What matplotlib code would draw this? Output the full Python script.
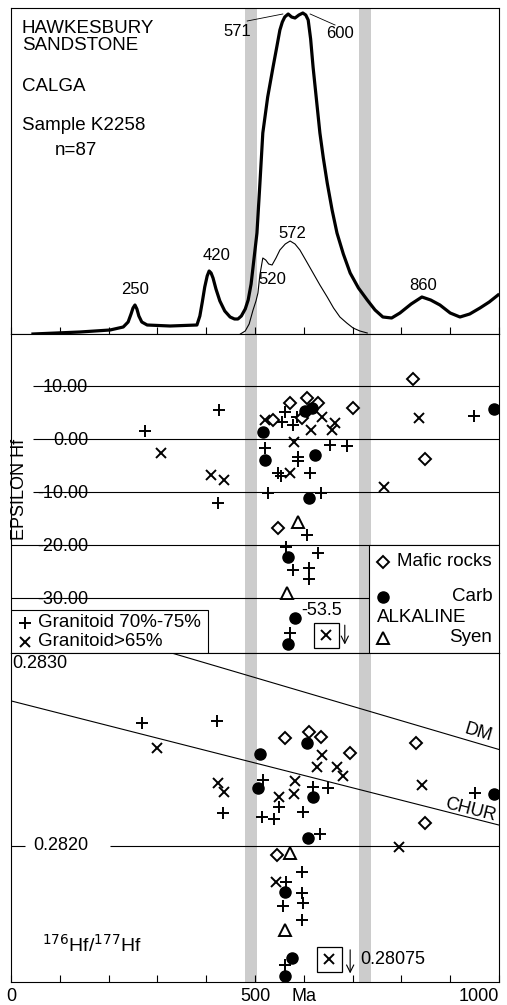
import numpy as np
import matplotlib.pyplot as plt
from matplotlib.patches import Rectangle

plt.rcParams['font.family'] = ['Liberation Sans', 'DejaVu Sans']
plt.rcParams['font.size'] = 13

# probability density curves (relative units)
pdf_age = [45, 141, 203, 230, 240, 246, 250, 254, 258, 262, 268, 279, 326, 381, 387,
           392, 397, 402, 406, 410, 414, 420, 428, 438, 449, 458, 465, 472, 480, 486,
           492, 496, 500, 504, 510, 516, 526, 537, 545, 551, 556, 561, 568, 575, 582,
           590, 598, 604, 609, 614, 619, 626, 633, 640, 648, 658, 668, 681, 695, 712,
           730, 746, 762, 780, 797, 820, 842, 860, 879, 900, 920, 940, 961, 980, 998]
pdf_all = [0, 2, 4, 7, 12, 20, 26, 29, 25, 18, 12, 9, 8, 9, 18,
           32, 47, 58, 63, 61, 56, 45, 33, 23, 17, 15, 15, 18, 25, 34,
           50, 67, 84, 101, 150, 201, 237, 267, 288, 304, 312, 317, 320, 317, 316,
           319, 321, 319, 314, 295, 267, 234, 201, 176, 151, 124, 101, 80, 61, 46,
           34, 24, 17, 16, 21, 30, 37, 34, 29, 21, 17, 20, 26, 32, 39]
sub_age = [470, 480, 488, 496, 502, 506, 510, 516, 522, 528, 535, 543, 551, 562, 572,
           582, 592, 605, 619, 633, 648, 661, 674, 688, 701, 715, 730]
pdf_sub = [0, 3, 10, 24, 33, 41, 59, 76, 74, 70, 69, 76, 84, 90, 93,
           90, 84, 73, 61, 49, 37, 26, 17, 11, 6, 3, 1]
peak_labels = ['250', '420', '571', '600', '572', '520', '860']

# epsilon Hf
gran70_age = [555, 561, 578, 586, 654, 689, 520, 588, 588, 547, 553, 613, 527, 635, 275,
              426, 424, 949, 607, 564, 629, 578, 611, 611, 572]
gran70_eps = [3.2, 5.1, 2.6, 4.2, -1.1, -1.3, -1.7, -3.4, -4.2, -6.4, -7.0, -6.4, -10.2, -10.2, 1.5,
              5.5, -12.1, 4.3, -18.1, -20.4, -21.6, -24.7, -24.4, -26.4, -36.6]
gran65_age = [520, 637, 664, 658, 615, 580, 572, 307, 410, 436, 836, 764]
gran65_eps = [3.6, 4.2, 3.0, 1.7, 1.7, -0.6, -6.4, -2.6, -6.8, -7.7, 4.0, -9.1]
mafic_age = [572, 607, 629, 701, 596, 537, 824, 848, 547]
mafic_eps = [6.8, 7.7, 6.8, 5.8, 4.0, 3.6, 11.3, -3.8, -16.8]
carb_age = [602, 617, 516, 520, 623, 611, 990, 568, 582, 568]
carb_eps = [5.3, 5.8, 1.3, -4.0, -3.0, -11.1, 5.7, -22.2, -33.8, -38.7]
syen_age = [588, 566]
syen_eps = [-15.6, -29.0]
eps_levels = [10, 0, -10, -20, -30]
eps_outlier = -53.5

# 176Hf/177Hf
gran70_age_r = [268, 422, 434, 951, 516, 619, 650, 549, 514, 539, 598, 633, 596, 564, 596,
                598, 557, 596, 561]
gran70_hf = [0.282676, 0.282687, 0.282181, 0.282291, 0.282363, 0.282324, 0.282319, 0.282214,
             0.282159, 0.282148, 0.282187, 0.282066, 0.281857, 0.281802, 0.281742, 0.281687,
             0.281670, 0.281593, 0.281346]
gran65_age_r = [299, 424, 436, 842, 795, 637, 627, 668, 680, 582, 580, 549, 543]
gran65_hf = [0.282538, 0.282346, 0.282297, 0.282335, 0.281995, 0.282500, 0.282434, 0.282434,
             0.282385, 0.282357, 0.282286, 0.282269, 0.281802]
mafic_age_r = [561, 611, 635, 695, 830, 848, 545]
mafic_hf = [0.282593, 0.282626, 0.282599, 0.282511, 0.282566, 0.282126, 0.281951]
carb_age_r = [606, 510, 506, 619, 609, 561, 576, 561, 990]
carb_hf = [0.282566, 0.282505, 0.282319, 0.282269, 0.282044, 0.281747, 0.281385, 0.281286, 0.282286]
syen_age_r = [572, 561]
syen_hf = [0.281962, 0.281538]
hf_outlier = 0.28075
model_age = [0, 1000]
dm_hf = [0.28332, 0.28253]
chur_hf = [0.282797, 0.282115]

bands = [(480, 504), (713, 738)]

fig = plt.figure(figsize=(5.07, 10.05), dpi=100)
ax1 = fig.add_axes([11/507, 671/1005, 488/507, 326/1005])
ax2 = fig.add_axes([11/507, 352/1005, 488/507, 319/1005])
ax3 = fig.add_axes([11/507, 23/1005, 488/507, 329/1005])

for ax in (ax1, ax2, ax3):
    ax.set_xlim(0, 1000)
    for b0, b1 in bands:
        ax.axvspan(b0, b1, color='#cccccc', lw=0, zorder=0)
    for s in ax.spines.values():
        s.set_linewidth(0.8)
    ax.tick_params(left=False, labelleft=False)

# ---- top: age spectrum
ax1.set_ylim(0, 326)
ax1.plot(pdf_age, pdf_all, color='k', lw=2.3, solid_joinstyle='round')
ax1.plot(sub_age, pdf_sub, color='k', lw=0.8)
ax1.set_xticks(range(0, 1001, 100))
ax1.tick_params(axis='x', direction='in', length=5, width=0.8, labelbottom=False)
lab_pos = [(254, 45), (422, 79), (463, 302), (674, 301), (576, 101), (535, 54), (844, 49)]
for t, (x, y) in zip(peak_labels, lab_pos):
    ax1.text(x, y, t, ha='center', va='center', fontsize=12)
ax1.plot([484, 557], [313, 320], color='k', lw=0.6)
ax1.plot([613, 664], [320, 309], color='k', lw=0.6)
ax1.text(22, 314, 'HAWKESBURY', va='top', fontsize=13.5)
ax1.text(22, 297, 'SANDSTONE', va='top', fontsize=13.5)
ax1.text(22, 256, 'CALGA', va='top', fontsize=13.5)
ax1.text(22, 217, 'Sample K2258', va='top', fontsize=13.5)
ax1.text(90, 192, 'n=87', va='top', fontsize=13.5)

# ---- middle: epsilon Hf
ax2.set_ylim(-40.38, 19.81)
ax2.set_xticks([])
ax2.hlines(eps_levels[:3], 45, 1000, color='k', lw=0.8)
ax2.hlines(eps_levels[3], 0, 1000, color='k', lw=0.8)
ax2.hlines(eps_levels[4], 0, 734, color='k', lw=0.8)
for v in eps_levels:
    ax2.text(158, v - 0.3, f'{v:.2f}', ha='right', va='center', fontsize=13)
ax2.text(18, -9.6, 'EPSILON Hf', rotation=90, ha='center', va='center', fontsize=13)

mk = dict(ls='none', color='k', zorder=4)
ax2.plot(gran70_age, gran70_eps, marker='+', ms=9, mew=1.4, **mk)
ax2.plot(gran65_age, gran65_eps, marker='x', ms=6.5, mew=1.4, **mk)
ax2.plot(mafic_age, mafic_eps, marker='D', ms=6, mew=1.4, mfc='white', **mk)
ax2.plot(carb_age, carb_eps, marker='o', ms=8, **mk)
ax2.plot(syen_age, syen_eps, marker='^', ms=9, mew=1.4, mfc='white', **mk)

ax2.plot(645, -36.9, marker='s', ms=18, mfc='white', mec='k', mew=0.9, zorder=4)
ax2.plot(645, -36.9, marker='x', ms=6.5, mew=1.4, **mk)
ax2.text(637, -32.3, f'{eps_outlier}', ha='center', va='center', fontsize=13)
ax2.annotate('', xy=(684, -39.3), xytext=(684, -34.6),
             arrowprops=dict(arrowstyle='->', lw=0.8, color='k'))

ax2.add_patch(Rectangle((0, -40.38), 404, 8.08, fc='white', ec='k', lw=0.8, zorder=3))
ax2.plot(29, -34.7, marker='+', ms=9, mew=1.4, **mk)
ax2.plot(29, -38.3, marker='x', ms=6.5, mew=1.4, **mk)
ax2.text(55, -34.7, 'Granitoid 70%-75%', va='center', fontsize=13.5, zorder=5)
ax2.text(55, -38.3, 'Granitoid>65%', va='center', fontsize=13.5, zorder=5)

ax2.add_patch(Rectangle((734, -40.38), 266, 20.38, fc='white', ec='k', lw=0.8, zorder=3))
ax2.plot(762, -23.2, marker='D', ms=6, mew=1.4, mfc='white', **mk)
ax2.text(791, -23.2, 'Mafic rocks', va='center', fontsize=13.5, zorder=5)
ax2.plot(762, -29.8, marker='o', ms=8, **mk)
ax2.text(986, -29.8, 'Carb', ha='right', va='center', fontsize=13.5, zorder=5)
ax2.text(750, -33.6, 'ALKALINE', va='center', fontsize=13.5, zorder=5)
ax2.plot(762, -37.5, marker='^', ms=9, mew=1.4, mfc='white', **mk)
ax2.text(986, -37.5, 'Syen', ha='right', va='center', fontsize=13.5, zorder=5)

# ---- bottom: 176Hf/177Hf
ax3.set_ylim(0.281253, 0.283060)
ax3.plot(model_age, dm_hf, color='k', lw=0.8)
ax3.plot(model_age, chur_hf, color='k', lw=0.8)
ax3.text(957, 0.282621, 'DM', ha='center', va='center', rotation=-16.5,
         rotation_mode='anchor', fontsize=13)
ax3.text(941, 0.282198, 'CHUR', ha='center', va='center', rotation=-14.3,
         rotation_mode='anchor', fontsize=13)
ax3.hlines(0.2820, 203, 1000, color='k', lw=0.8)
ax3.hlines(0.2820, 0, 29, color='k', lw=0.8)
ax3.text(158, 0.2820, '0.2820', ha='right', va='center', fontsize=13)
ax3.text(3, 0.2830, '0.2830', ha='left', va='center', fontsize=13)
ax3.text(64, 0.281418, r'$^{176}$Hf/$^{177}$Hf', ha='left', va='baseline', fontsize=14)

ax3.plot(gran70_age_r, gran70_hf, marker='+', ms=9, mew=1.4, **mk)
ax3.plot(gran65_age_r, gran65_hf, marker='x', ms=6.5, mew=1.4, **mk)
ax3.plot(mafic_age_r, mafic_hf, marker='D', ms=6, mew=1.4, mfc='white', **mk)
ax3.plot(carb_age_r, carb_hf, marker='o', ms=8, **mk)
ax3.plot(syen_age_r, syen_hf, marker='^', ms=9, mew=1.4, mfc='white', **mk)

ax3.plot(652, 0.281382, marker='s', ms=18, mfc='white', mec='k', mew=0.9, zorder=4)
ax3.plot(652, 0.281382, marker='x', ms=6.5, mew=1.4, **mk)
ax3.annotate('', xy=(695, 0.281285), xytext=(695, 0.281445),
             arrowprops=dict(arrowstyle='->', lw=0.8, color='k'))
ax3.text(715, 0.281374, f'{hf_outlier}', ha='left', va='center', fontsize=13)

ax3.set_xticks(range(0, 1001, 100))
ax3.set_xticklabels(['0', '', '', '', '', '500', 'Ma', '', '', '', '1000'])
ax3.tick_params(axis='x', direction='in', length=5, width=0.8, labelsize=13, pad=4)
ax3.get_xticklabels()[-1].set_horizontalalignment('right')

fig.savefig('out.png', dpi=100)
